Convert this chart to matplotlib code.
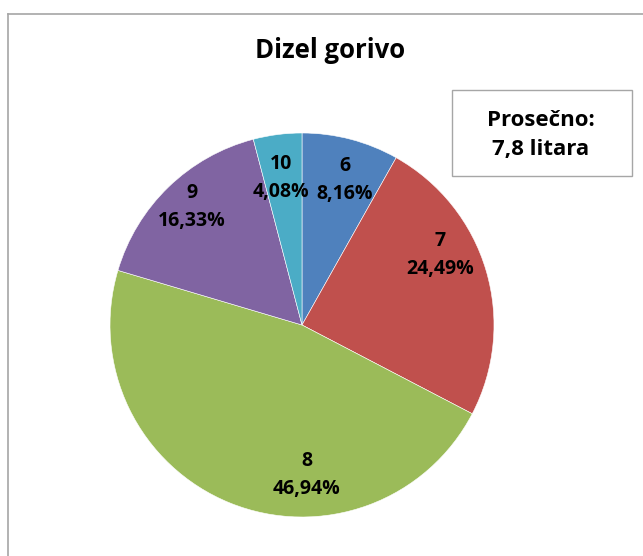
import matplotlib
matplotlib.use("Agg")
import matplotlib.pyplot as plt
from matplotlib.lines import Line2D
from matplotlib.patches import Rectangle

categories = ["6", "7", "8", "9", "10"]
shares = [8.16, 24.49, 46.94, 16.33, 4.08]
colors = ["#4F81BD", "#C0504D", "#9BBB59", "#8064A2", "#4BACC6"]
label_xy = [(0.224, 0.755), (0.719, 0.365), (0.026, -0.781),
            (-0.573, 0.615), (-0.109, 0.766)]

plt.rcParams["font.family"] = ["Open Sans", "DejaVu Sans"]

W, H = 643, 556
fig = plt.figure(figsize=(W / 100, H / 100), dpi=100)

# chart frame (only top/left edges visible in the crop)
fig.add_artist(Line2D([8 / W, 8 / W], [0, 1 - 14 / H], color="#A6A6A6", lw=1.2))
fig.add_artist(Line2D([8 / W, 1], [1 - 14 / H, 1 - 14 / H], color="#A6A6A6", lw=1.2))

cx, cy, r = 302, 325, 192
ax = fig.add_axes([(cx - r) / W, (H - cy - r) / H, 2 * r / W, 2 * r / H])
ax.pie(shares, colors=colors, startangle=90, counterclock=False, radius=1,
       wedgeprops=dict(edgecolor="white", linewidth=0.4))
ax.set_xlim(-1, 1)
ax.set_ylim(-1, 1)
ax.set_aspect("equal")
ax.axis("off")

for cat, val, (x, y) in zip(categories, shares, label_xy):
    txt = f"{cat}\n{val:.2f}%".replace(".", ",")
    ax.text(x, y, txt, ha="center", va="center", fontsize=14,
            fontweight="bold", linespacing=1.5, color="black")

fig.text(330 / W, 1 - 50 / H, "Dizel gorivo", ha="center", va="center",
         fontsize=18.5, fontweight="bold")

# "average" box
fig.add_artist(Rectangle((452 / W, 1 - 176 / H), 180 / W, 86 / H,
                         transform=fig.transFigure, facecolor="white",
                         edgecolor="#A6A6A6", lw=1))
fig.text(541 / W, 1 - 135 / H, "Prosečno:\n7,8 litara", ha="center", va="center",
         fontsize=16, fontweight="bold", linespacing=1.55)

fig.savefig("out.png", dpi=100)
